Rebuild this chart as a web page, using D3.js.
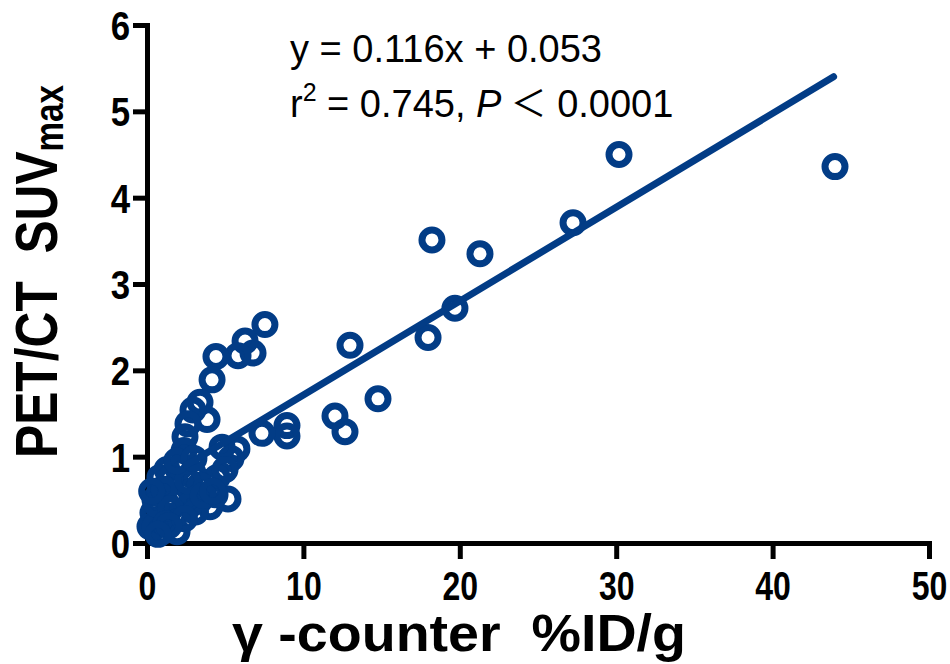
<!DOCTYPE html>
<html>
<head>
<meta charset="utf-8">
<script src="https://cdn.jsdelivr.net/npm/d3@7"></script>
<style>
  body { margin: 0; background: #fff; }
  text { font-family: "Liberation Sans", Arial, sans-serif; white-space: pre; }
</style>
</head>
<body>
<svg id="chart" width="950" height="664"></svg>
<script>
// ---------------------------- DATA ----------------------------
// gamma-counter %ID/g for each sample
const counterValues = [
    43.99, 30.18, 27.24, 21.29, 18.22, 19.69, 17.97, 14.77, 12.98, 12.02,
    12.66, 8.95, 8.95, 7.54, 6.78, 6.27, 5.82, 4.41, 4.16, 7.35,
    5.75, 5.37, 4.80, 5.18, 3.84, 3.39, 2.94, 2.62, 2.43, 2.37,
    1.28, 0.83, 4.03, 3.39, 2.30, 1.66, 0.38, 0.19, 0.96, 1.92,
    3.84, 4.48, 2.94, 2.11, 0.51, 0.83, 3.39, 4.35, 2.75, 1.79,
    0.83, 4.99, 0.51, 1.47, 0.60, 1.10, 1.50, 2.60, 3.10, 3.60,
    4.20, 1.20, 2.40, 0.30, 1.90, 3.00, 1.40, 0.70
];
// PET/CT SUVmax for the same samples
const suvValues = [
    4.36, 4.50, 3.71, 3.35, 3.51, 2.72, 2.38, 1.67, 2.29, 1.47,
    1.29, 1.36, 1.24, 2.53, 2.20, 2.34, 2.17, 2.16, 1.89, 1.27,
    1.09, 0.98, 1.11, 0.51, 1.43, 1.63, 1.54, 1.38, 1.23, 1.07,
    0.85, 0.76, 0.42, 0.50, 0.58, 0.50, 0.35, 0.19, 0.13, 0.13,
    0.70, 0.76, 0.81, 0.88, 0.50, 0.61, 0.67, 0.56, 0.44, 0.32,
    0.27, 0.85, 0.19, 0.75, 0.45, 0.62, 0.40, 0.72, 0.36, 0.55,
    0.60, 0.22, 0.28, 0.60, 0.95, 0.98, 0.20, 0.10
];

// Regression line end points as drawn
const fitX = [2.5, 43.9];
const fitY = [0.90, 5.40];

const xTicks = [0, 10, 20, 30, 40, 50];
const yTicks = [0, 1, 2, 3, 4, 5, 6];

const points = counterValues.map((d, i) => ({ x: d, y: suvValues[i] }));
const fitLine = fitX.map((d, i) => ({ x: d, y: fitY[i] }));

// ---------------------------- SET UP ----------------------------
const blue = "#023c86";
const svg = d3.select("#chart");

const x = d3.scaleLinear().domain([0, 50]).range([147, 929]);
const y = d3.scaleLinear().domain([0, 6]).range([543, 25]);

// ---------------------------- AXES ----------------------------
const xAxis = svg.append("g")
    .attr("transform", "translate(0," + y(0) + ")")
    .call(d3.axisBottom(x).tickValues(xTicks).tickSize(16).tickSizeOuter(0).tickFormat(d3.format("d")));

const yAxis = svg.append("g")
    .attr("transform", "translate(" + x(0) + ",0)")
    .call(d3.axisLeft(y).tickValues(yTicks).tickSize(14).tickSizeOuter(0).tickFormat(d3.format("d")));

[xAxis, yAxis].forEach(ax => {
    ax.select(".domain").attr("stroke", "#000").attr("stroke-width", 5).attr("stroke-linecap", "square");
    ax.selectAll(".tick line").attr("stroke", "#000").attr("stroke-width", 5);
    ax.selectAll(".tick text")
        .attr("fill", "#000")
        .style("font-family", "'Liberation Sans', Arial, sans-serif")
        .style("font-weight", "bold")
        .style("font-size", "40px");
});

// Condensed tick labels, like the original
xAxis.selectAll(".tick text")
    .attr("x", 0).attr("y", 0).attr("dy", 0)
    .attr("transform", "translate(0,57) scale(0.8,1)");
yAxis.selectAll(".tick text")
    .attr("x", 0).attr("dy", "0.36em")
    .attr("transform", "translate(-17,0) scale(0.87,1)");

// ---------------------------- POINTS AND FIT ----------------------------
svg.append("g")
    .selectAll("circle")
    .data(points)
    .enter()
    .append("circle")
    .attr("cx", d => x(d.x))
    .attr("cy", d => y(d.y))
    .attr("r", 10)
    .attr("fill", "none")
    .attr("stroke", blue)
    .attr("stroke-width", 7);

svg.append("path")
    .datum(fitLine)
    .attr("d", d3.line().x(d => x(d.x)).y(d => y(d.y)))
    .attr("fill", "none")
    .attr("stroke", blue)
    .attr("stroke-width", 7)
    .attr("stroke-linecap", "round");

// ---------------------------- TEXT ----------------------------
// Equation
svg.append("text")
    .attr("x", 290).attr("y", 62)
    .style("font-size", "38px")
    .text("y = 0.116x + 0.053");

const stats = svg.append("text")
    .attr("x", 290).attr("y", 117)
    .style("font-size", "38px");
stats.append("tspan").text("r");
stats.append("tspan").attr("dy", -16).style("font-size", "25px").text("2");
stats.append("tspan").attr("dy", 16).text(" = 0.745, ");
stats.append("tspan").style("font-style", "italic").text("P ");
stats.append("tspan").style("font-family", "'Noto Sans CJK SC', sans-serif").style("font-size", "36px").text("＜");
stats.append("tspan").text(" 0.0001");

// Axis labels, squeezed to the original widths
function fitWidth(sel, target) {
    const len = sel.node().getComputedTextLength();
    return target / len;
}

const xLabel = svg.append("text")
    .style("font-size", "52px").style("font-weight", "bold")
    .text("γ -counter  %ID/g");
const xs = fitWidth(xLabel, 454);
xLabel.attr("transform", "translate(232,651) scale(" + xs + ",1)");

const yLabel = svg.append("text")
    .style("font-size", "60px").style("font-weight", "bold");
yLabel.append("tspan").text("PET/CT  SUV");
yLabel.append("tspan").attr("dy", 6).style("font-size", "40px").text("max");
const ys = fitWidth(yLabel, 373);
yLabel.attr("transform", "translate(57,458) rotate(-90) scale(" + ys + ",1)");
</script>
</body>
</html>
